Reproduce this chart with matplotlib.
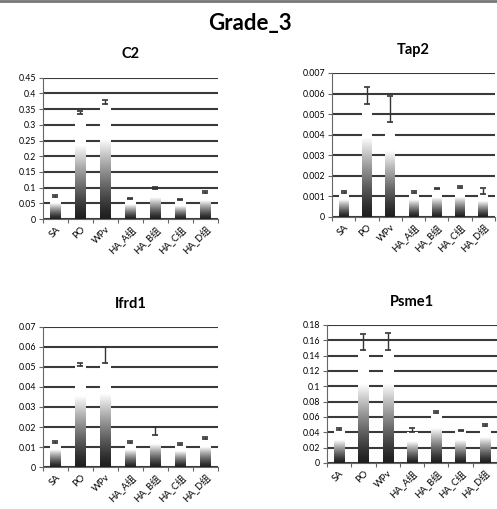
import numpy as np
import matplotlib.pyplot as plt
from matplotlib.ticker import FuncFormatter, FixedLocator

# Datos
categorias = ['SA', 'PO', 'WPv', 'HA_A组', 'HA_B组', 'HA_C组', 'HA_D组']

c2_media = [0.071, 0.335, 0.365, 0.064, 0.097, 0.060, 0.084]
c2_error = [0.004, 0.010, 0.015, 0.004, 0.004, 0.004, 0.004]

tap2_media = [0.00118, 0.0055, 0.0046, 0.00118, 0.00135, 0.0014, 0.0011]
tap2_error = [0.00007, 0.0008, 0.0013, 0.00007, 0.00007, 0.0001, 0.0003]

ifrd1_media = [0.012, 0.0505, 0.052, 0.012, 0.016, 0.011, 0.014]
ifrd1_error = [0.001, 0.0015, 0.008, 0.001, 0.004, 0.0008, 0.001]

psme1_media = [0.043, 0.147, 0.148, 0.040, 0.065, 0.042, 0.048]
psme1_error = [0.002, 0.021, 0.022, 0.005, 0.003, 0.001, 0.003]

fuente = ['Lato', 'Noto Sans CJK SC', 'DejaVu Sans']
plt.rcParams['font.family'] = fuente

fig = plt.figure(figsize=(4.97, 5.09), dpi=100)

# degradado vertical: oscuro abajo, blanco hacia arriba
t = np.linspace(0, 1, 256).reshape(-1, 1)
degradado = 0.12 + 0.88 * np.clip(t / 0.7, 0, 1) ** 1.3


def panel(pos, titulo, media, error, ymax, paso):
    ax = fig.add_axes(pos)
    x = np.arange(len(categorias))
    barras = ax.bar(x, media, width=0.42, color='none', edgecolor='none', zorder=3)
    for b in barras:
        x0, y0 = b.get_x(), b.get_y()
        im = ax.imshow(degradado, cmap='gray', vmin=0, vmax=1, origin='lower',
                       extent=[x0, x0 + b.get_width(), y0, y0 + b.get_height()],
                       aspect='auto', zorder=3)
        im.set_clip_path(b)
    ax.errorbar(x, media, yerr=[np.zeros(len(media)), error], fmt='none',
                ecolor='#333333', elinewidth=1.0, capsize=2, capthick=1.2, zorder=4)
    ax.set_xlim(-0.5, len(categorias) - 0.5)
    ax.set_ylim(0, ymax)
    yt = np.arange(0, ymax + paso / 2, paso)
    ax.set_yticks(yt)
    ax.yaxis.set_major_formatter(FuncFormatter(lambda v, p: '%g' % round(v, 6)))
    ax.grid(axis='y', color='#3a3a3a', linewidth=1.5, zorder=0)
    ax.set_axisbelow(True)
    ax.xaxis.set_major_locator(FixedLocator(np.arange(-0.5, len(categorias), 1.0)))
    ax.set_xticklabels([])
    ax.set_xticks(x, minor=True)
    ax.set_xticklabels(categorias, minor=True, rotation=45, ha='right',
                       rotation_mode='anchor', fontsize=6.8, family=fuente)
    ax.tick_params(axis='x', which='minor', length=0, pad=4)
    ax.tick_params(axis='x', which='major', length=3, color='#666666', direction='out')
    ax.tick_params(axis='y', labelsize=6.3, length=3, color='#666666', pad=2)
    for s in ['top', 'right']:
        ax.spines[s].set_visible(False)
    ax.spines['left'].set_color('#666666')
    ax.spines['bottom'].set_color('#666666')
    ax.set_title(titulo, fontsize=10.5, fontweight='bold', pad=14)
    return ax


panel([0.0865, 0.5697, 0.352, 0.2776], 'C2', c2_media, c2_error, 0.45, 0.05)
panel([0.668, 0.5737, 0.328, 0.2829], 'Tap2', tap2_media, tap2_error, 0.007, 0.001)
panel([0.0865, 0.0825, 0.352, 0.2751], 'Ifrd1', ifrd1_media, ifrd1_error, 0.07, 0.01)
panel([0.658, 0.0904, 0.342, 0.2711], 'Psme1', psme1_media, psme1_error, 0.18, 0.02)

fig.text(0.503, 0.953, 'Grade_3', ha='center', va='center', fontsize=16, fontweight='bold')
fig.add_artist(plt.Line2D([0, 1], [0.998, 0.998], color='#777777', linewidth=2))

plt.savefig('out.png', dpi=100)
